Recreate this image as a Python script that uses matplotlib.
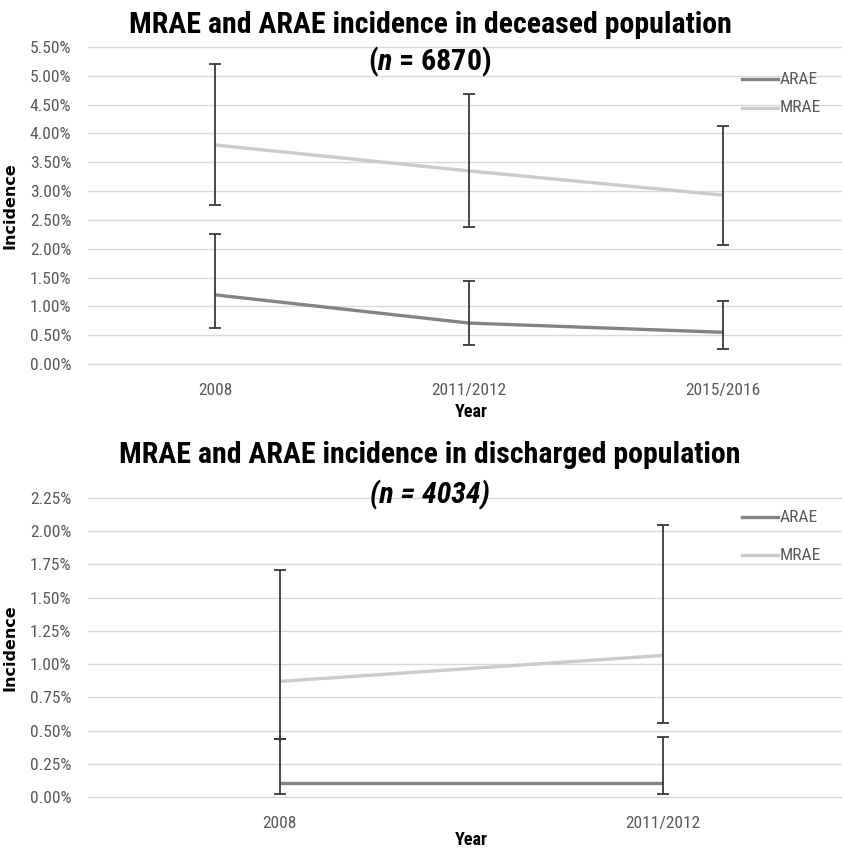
import matplotlib
matplotlib.use("Agg")
import matplotlib.pyplot as plt
from matplotlib import font_manager
from matplotlib.ticker import FuncFormatter
import numpy as np

# deceased population (n = 6870)
years_dec = ["2008", "2011/2012", "2015/2016"]
arae_dec = [1.20, 0.71, 0.55]
arae_dec_lo = [0.63, 0.33, 0.26]
arae_dec_hi = [2.26, 1.44, 1.10]
mrae_dec = [3.80, 3.35, 2.93]
mrae_dec_lo = [2.75, 2.37, 2.07]
mrae_dec_hi = [5.21, 4.68, 4.13]

# discharged population (n = 4034)
years_dis = ["2008", "2011/2012"]
arae_dis = [0.105, 0.105]
arae_dis_lo = [0.025, 0.025]
arae_dis_hi = [0.44, 0.45]
mrae_dis = [0.87, 1.065]
mrae_dis_lo = [0.44, 0.56]
mrae_dis_hi = [1.71, 2.045]

names = set(f.name for f in font_manager.fontManager.ttflist)
font = "DejaVu Sans"
for f in ["Liberation Sans Narrow", "Roboto Condensed", "Open Sans Condensed", "Liberation Sans"]:
    if f in names:
        font = f
        break
plt.rcParams["font.family"] = [font, "DejaVu Sans"]
plt.rcParams["mathtext.fontset"] = "custom"
plt.rcParams["mathtext.it"] = font + ":italic:bold"
plt.rcParams["mathtext.rm"] = font + ":bold"

W, H = 842, 852
fig = plt.figure(figsize=(W / 100, H / 100), dpi=100)

ARAE_C = "#838383"
MRAE_C = "#cbcbcb"
ERR_C = "#3a3a3a"
GRID_C = "#d9d9d9"
TICK_C = "#595959"


def panel(top, bottom, cats, arae, alo, ahi, mrae, mlo, mhi, ymax, ystep, leg_y, year_y):
    ax = fig.add_axes([88 / W, (H - bottom) / H, (W - 88) / W, (bottom - top) / H])
    x = np.arange(len(cats))
    spacing = {3: 254.0, 2: 383.0}[len(cats)]
    ax.set_xlim(-0.5, -0.5 + (W - 88) / spacing)
    ax.set_ylim(0, ymax)
    ticks = np.arange(0, ymax + ystep / 2, ystep)
    ax.set_yticks(ticks)
    ax.yaxis.set_major_formatter(FuncFormatter(lambda v, p: f"{v:.2f}%"))
    ax.grid(axis="y", color=GRID_C, lw=1.0)
    for g in ax.get_ygridlines():
        g.set_clip_on(False)
    ax.set_axisbelow(True)
    for s in ax.spines.values():
        s.set_visible(False)
    ax.tick_params(length=0, labelsize=12.5, labelcolor=TICK_C, pad=12)
    ax.tick_params(axis="x", pad=14)
    ax.set_xticks(x)
    ax.set_xticklabels(cats)
    ax.set_ylabel("Incidence", fontsize=11.5, fontweight="bold", family="DejaVu Sans")
    ax.yaxis.set_label_coords(-70 / (W - 88), 0.5)
    ax.set_xlabel("Year", fontsize=13, fontweight="bold", va="center")
    ax.xaxis.set_label_coords((471 - 88) / (W - 88), -(year_y - bottom) / (bottom - top))

    ax.plot(x, mrae, color=MRAE_C, lw=2.4, label="MRAE", solid_capstyle="butt")
    ax.plot(x, arae, color=ARAE_C, lw=2.4, label="ARAE", solid_capstyle="butt")
    a = np.array(arae); m = np.array(mrae)
    ax.errorbar(x, m, yerr=[m - np.array(mlo), np.array(mhi) - m], fmt="none",
                ecolor=ERR_C, elinewidth=1.3, capsize=4, capthick=1.3)
    ax.errorbar(x, a, yerr=[a - np.array(alo), np.array(ahi) - a], fmt="none",
                ecolor=ERR_C, elinewidth=1.3, capsize=4, capthick=1.3)

    # legend, drawn by hand
    for yy, c, t in zip(leg_y, [ARAE_C, MRAE_C], ["ARAE", "MRAE"]):
        fy = (H - yy) / H
        fig.lines.append(plt.Line2D([(W - 100) / W, (W - 64) / W], [fy, fy], color=c, lw=2.4,
                                    transform=fig.transFigure))
        fig.text((W - 62) / W, fy, t, fontsize=12.5, color=TICK_C, va="center", ha="left")
    return ax


panel(47, 364, years_dec, arae_dec, arae_dec_lo, arae_dec_hi,
      mrae_dec, mrae_dec_lo, mrae_dec_hi, 5.5, 0.5, [79, 108], 412)
panel(498, 797, years_dis, arae_dis, arae_dis_lo, arae_dis_hi,
      mrae_dis, mrae_dis_lo, mrae_dis_hi, 2.25, 0.25, [517, 555], 840)

fig.text(430 / W, (H - 25) / H, "MRAE and ARAE incidence in deceased population",
         fontsize=21.5, fontweight="bold", ha="center", va="center")
fig.text(430 / W, (H - 62) / H, r"($\mathit{n}$ = 6870)",
         fontsize=21.5, fontweight="bold", ha="center", va="center")
fig.text(430 / W, (H - 455) / H, "MRAE and ARAE incidence in discharged population",
         fontsize=21.5, fontweight="bold", ha="center", va="center")
fig.text(430 / W, (H - 495) / H, "(n = 4034)",
         fontsize=21.5, fontweight="bold", fontstyle="italic", ha="center", va="center")

fig.savefig("out.png", dpi=100)
